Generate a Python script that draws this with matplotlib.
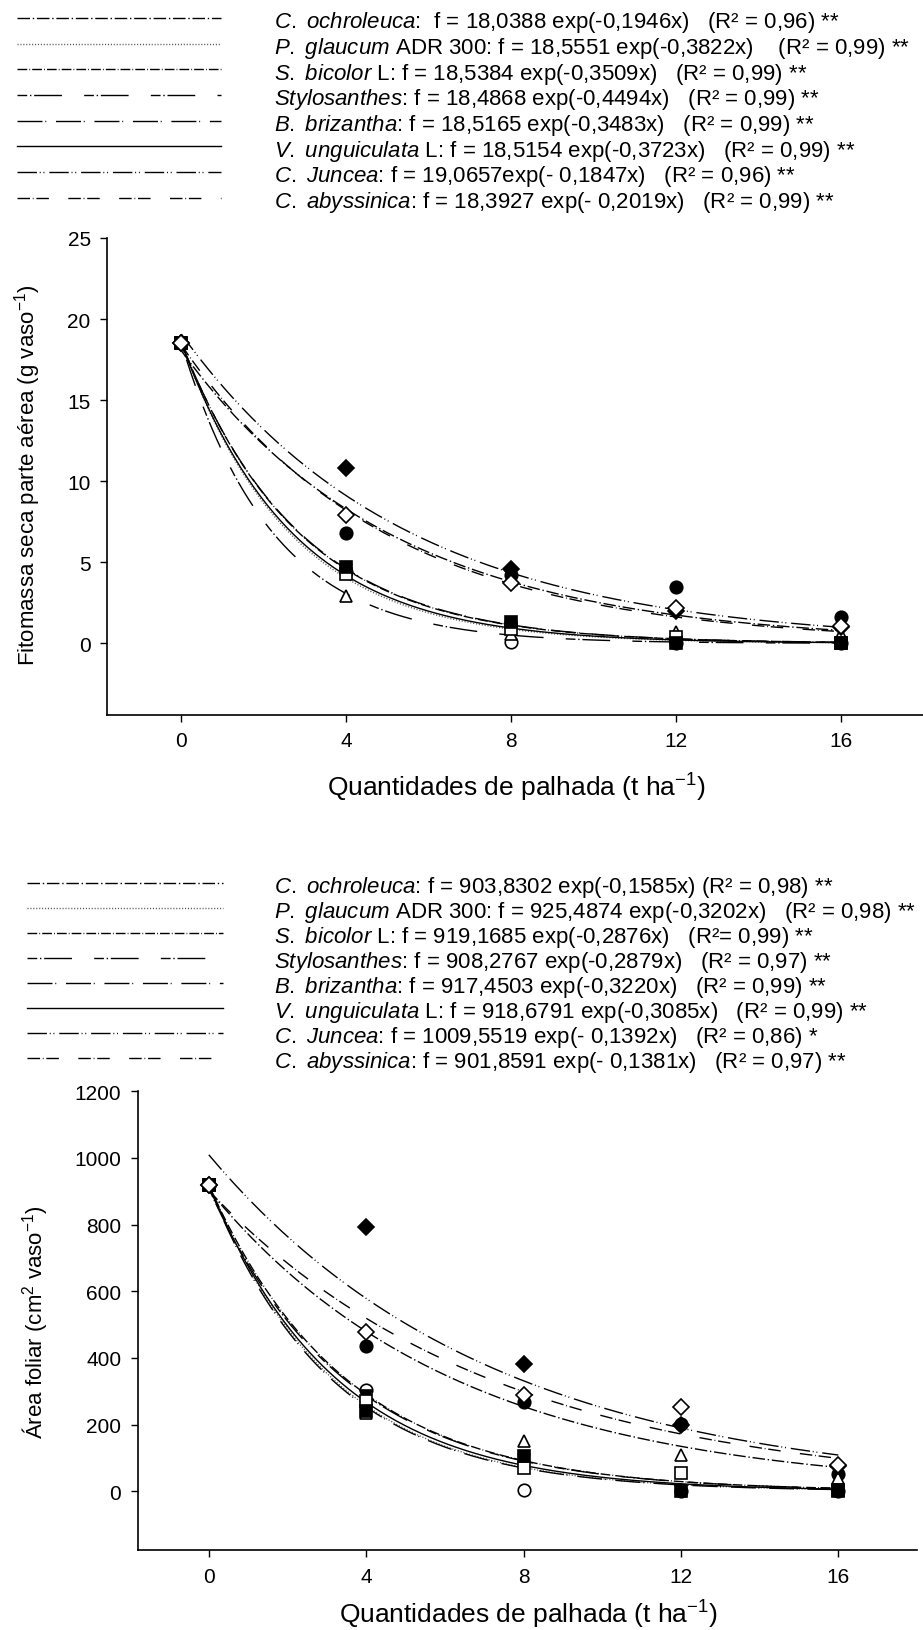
import numpy as np
import matplotlib
matplotlib.use('Agg')
import matplotlib.pyplot as plt

plt.rcParams['font.family'] = ['Liberation Sans', 'DejaVu Sans']
plt.rcParams['mathtext.fontset'] = 'custom'
plt.rcParams['mathtext.rm'] = 'Liberation Sans'
plt.rcParams['mathtext.it'] = 'Liberation Sans:italic'
plt.rcParams['mathtext.default'] = 'regular'

# doses de palhada
doses = [0, 4, 8, 12, 16]

# especies (parte italica + resto)
names_it = ["C. ochroleuca", "P. glaucum", "S. bicolor", "Stylosanthes",
            "B. brizantha", "V. unguiculata", "C. Juncea", "C. abyssinica"]
names_rest = [":", " ADR 300:", " L:", ":", ":", " L:", ":", ":"]

# fitomassa seca parte aerea (g vaso-1)
fito = [
    [18.5, 6.8, 4.2, 3.45, 1.65],   # C. ochroleuca
    [18.5, 4.4, 0.1, 0.0, 0.0],     # P. glaucum
    [18.5, 4.5, 1.0, 0.0, 0.0],     # S. bicolor
    [18.5, 2.9, 0.6, 0.7, 0.6],     # Stylosanthes
    [18.5, 4.7, 1.3, 0.0, 0.0],     # B. brizantha
    [18.5, 4.3, 0.9, 0.4, 0.0],     # V. unguiculata
    [18.5, 10.8, 4.6, 2.0, 1.0],    # C. juncea
    [18.5, 7.9, 3.7, 2.15, 1.05],   # C. abyssinica
]
fito_a = [18.0388, 18.5551, 18.5384, 18.4868, 18.5165, 18.5154, 19.0657, 18.3927]
fito_b = [0.1946, 0.3822, 0.3509, 0.4494, 0.3483, 0.3723, 0.1847, 0.2019]
fito_eq = [
    "  f = 18,0388 exp(-0,1946x)   (R² = 0,96) **",
    " f = 18,5551 exp(-0,3822x)    (R² = 0,99) **",
    " f = 18,5384 exp(-0,3509x)   (R² = 0,99) **",
    " f = 18,4868 exp(-0,4494x)   (R² = 0,99) **",
    " f = 18,5165 exp(-0,3483x)   (R² = 0,99) **",
    " f = 18,5154 exp(-0,3723x)   (R² = 0,99) **",
    " f = 19,0657exp(- 0,1847x)   (R² = 0,96) **",
    " f = 18,3927 exp(- 0,2019x)   (R² = 0,99) **",
]

# area foliar (cm2 vaso-1)
area = [
    [920, 437, 268, 203, 53],
    [920, 305, 5, 0, 0],
    [920, 285, 95, 0, 0],
    [920, 235, 150, 110, 40],
    [920, 240, 106, 0, 0],
    [920, 270, 70, 56, 5],
    [920, 794, 383, 200, 75],
    [920, 479, 288, 253, 80],
]
area_a = [903.8302, 925.4874, 919.1685, 908.2767, 917.4503, 918.6791, 1009.5519, 901.8591]
area_b = [0.1585, 0.3202, 0.2876, 0.2879, 0.3220, 0.3085, 0.1392, 0.1381]
area_eq = [
    " f = 903,8302 exp(-0,1585x) (R² = 0,98) **",
    " f = 925,4874 exp(-0,3202x)   (R² = 0,98) **",
    " f = 919,1685 exp(-0,2876x)   (R²= 0,99) **",
    " f = 908,2767 exp(-0,2879x)   (R² = 0,97) **",
    " f = 917,4503 exp(-0,3220x)   (R² = 0,99) **",
    " f = 918,6791 exp(-0,3085x)   (R² = 0,99) **",
    " f = 1009,5519 exp(- 0,1392x)   (R² = 0,86) *",
    " f = 901,8591 exp(- 0,1381x)   (R² = 0,97) **",
]

# estilo de cada especie
markers = ['o', 'o', 'v', '^', 's', 's', 'D', 'D']
fills = ['k', 'w', 'k', 'w', 'k', 'w', 'k', 'w']
msizes = [9, 9, 9, 9, 9, 9, 8, 8]
dashes = [
    (0, (9, 2, 1, 2)),
    (0, (0.8, 1.3)),
    (0, (7, 1.5, 0.6, 1.5)),
    (0, (7, 2, 1, 2, 20, 16)),
    (0, (18, 2, 0.7, 7)),
    '-',
    (0, (14, 2, 0.7, 2, 0.7, 3.5)),
    (0, (9, 2, 0.6, 2, 9, 14)),
]
colors = ['k', '0.35', 'k', 'k', 'k', 'k', 'k', 'k']
# ordem de desenho dos simbolos (quadrado cheio por cima do vazio)
draw_order = [0, 1, 2, 3, 5, 4, 6, 7]

W, H = 923, 1631


def label(i, eq):
    name = names_it[i].replace(' ', r'\ ')
    return r'$\mathit{' + name + '}$' + names_rest[i] + eq[i]


def panel(ax, data, a, b, ylim, yticks, ylabel):
    xx = np.linspace(0, 16, 300)
    lines = []
    for i in range(len(a)):
        ln, = ax.plot(xx, a[i] * np.exp(-b[i] * xx), linestyle=dashes[i],
                      color=colors[i], lw=1.0, zorder=2)
        lines.append(ln)
    for i in draw_order:
        ax.plot(doses, data[i], linestyle='none', marker=markers[i], ms=msizes[i],
                mfc=fills[i], mec='k', mew=1.2, zorder=3, clip_on=False)
    ax.set_xlim(-1.8, 18)
    ax.set_ylim(*ylim)
    ax.set_xticks(doses)
    ax.set_yticks(yticks)
    for s in ['top', 'right']:
        ax.spines[s].set_visible(False)
    for s in ['left', 'bottom']:
        ax.spines[s].set_linewidth(1.2)
    ax.tick_params(direction='out', length=5, width=1, labelsize=15, pad=7)
    ax.set_xlabel('Quantidades de palhada (t ha$^{-1}$)', fontsize=19, va='center')
    ax.set_ylabel(ylabel, fontsize=16, va='center')
    return lines


fig = plt.figure(figsize=(W / 100, H / 100), dpi=100)

# grafico superior
ax1 = fig.add_axes([107.3 / W, 1 - 715.7 / H, (W - 107.3) / W, (715.7 - 239) / H])
l1 = panel(ax1, fito, fito_a, fito_b, (-4.4, 25), [0, 5, 10, 15, 20, 25],
           'Fitomassa seca parte aérea (g vaso$^{-1}$)')
ax1.xaxis.set_label_coords(0.501, -0.1517)
ax1.yaxis.set_label_coords(-0.0972, 0.505)
fig.legend(l1, [label(i, fito_eq) for i in range(8)], loc='upper left',
           bbox_to_anchor=(17 / W, 1 - 9.6 / H), bbox_transform=fig.transFigure,
           frameon=False, borderpad=0, borderaxespad=0, handlelength=9.2,
           handletextpad=2.35, handleheight=1.17, labelspacing=0.0, fontsize=16)

# grafico inferior
ax2 = fig.add_axes([138 / W, 1 - 1551 / H, (917 - 138) / W, (1551 - 1092.3) / H])
l2 = panel(ax2, area, area_a, area_b, (-176, 1200), list(range(0, 1201, 200)),
           'Área foliar (cm$^2$ vaso$^{-1}$)')
ax2.xaxis.set_label_coords(0.5006, -0.1395)
ax2.yaxis.set_label_coords(-0.1322, 0.5)
fig.legend(l2, [label(i, area_eq) for i in range(8)], loc='upper left',
           bbox_to_anchor=(27 / W, 1 - 875 / H), bbox_transform=fig.transFigure,
           frameon=False, borderpad=0, borderaxespad=0, handlelength=8.8,
           handletextpad=2.3, handleheight=1.01, labelspacing=0.0, fontsize=16)

fig.savefig('out.png', dpi=100)
